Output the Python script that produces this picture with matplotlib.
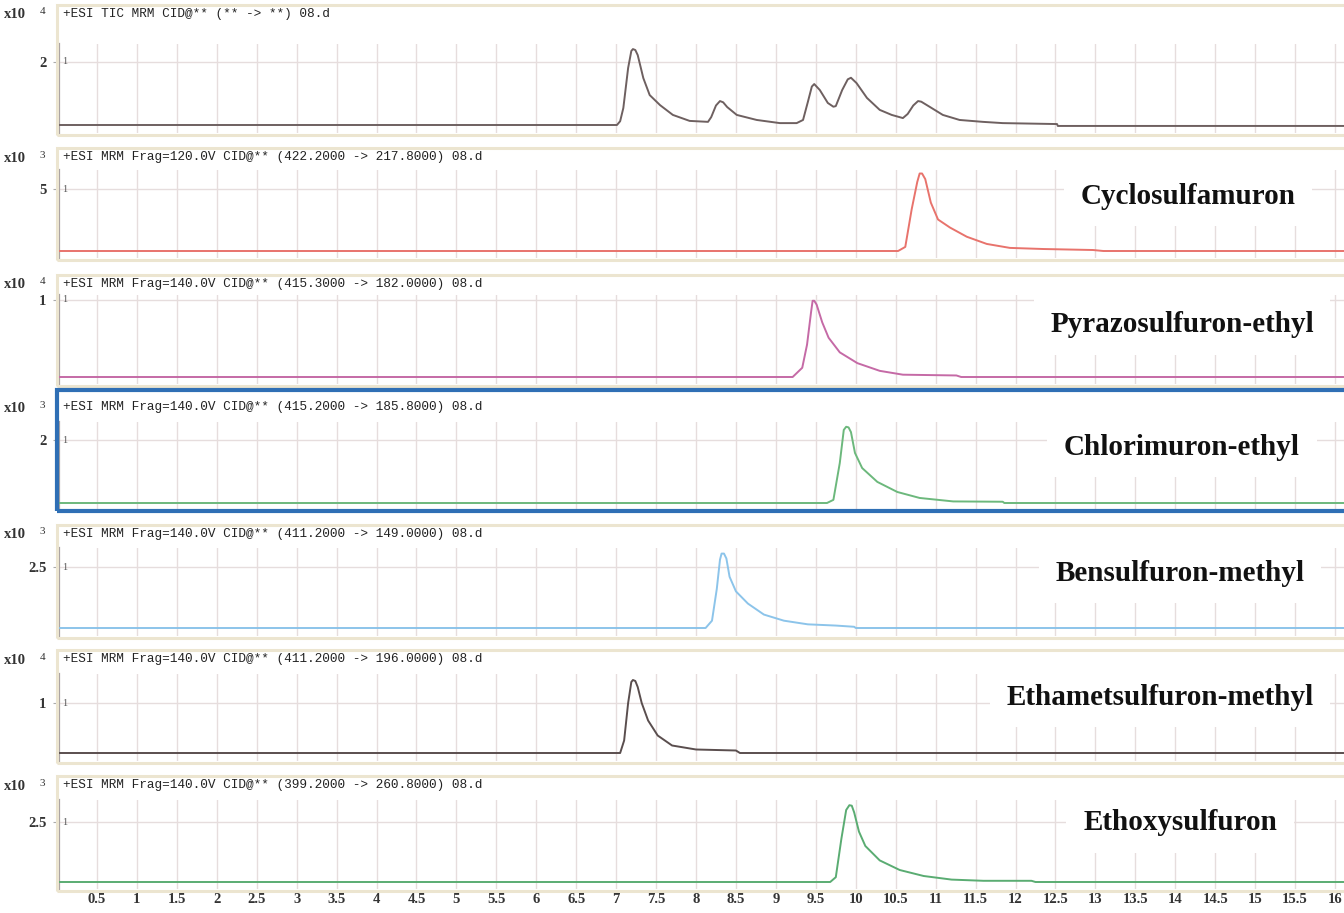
import matplotlib
matplotlib.use("Agg")
import matplotlib.pyplot as plt
from matplotlib.patches import Rectangle

# ---- data (time in min, intensity in units of 10^exp) ----
tic_t = [0.02, 7.01, 7.05, 7.09, 7.15, 7.19, 7.21, 7.24, 7.27, 7.34, 7.42, 7.55, 7.71, 7.92, 8.15,
         8.19, 8.25, 8.30, 8.34, 8.39, 8.51, 8.76, 9.05, 9.26, 9.34, 9.40, 9.45, 9.48, 9.55, 9.65,
         9.72, 9.75, 9.83, 9.90, 9.94, 10.01, 10.14, 10.30, 10.45, 10.59, 10.65, 10.72, 10.78,
         10.82, 10.93, 11.09, 11.30, 11.59, 11.84, 12.52, 12.53, 16.2]
tic_v = [0.0, 0.0, 0.12, 0.54, 1.81, 2.35, 2.41, 2.38, 2.22, 1.49, 0.95, 0.63, 0.32, 0.13, 0.10,
         0.25, 0.62, 0.76, 0.72, 0.57, 0.32, 0.16, 0.06, 0.06, 0.16, 0.73, 1.22, 1.30, 1.11, 0.70,
         0.58, 0.60, 1.11, 1.45, 1.50, 1.33, 0.86, 0.48, 0.32, 0.22, 0.35, 0.62, 0.76,
         0.74, 0.57, 0.32, 0.16, 0.10, 0.06, 0.03, -0.03, -0.03]

cyclo_t = [0.02, 10.53, 10.62, 10.70, 10.77, 10.80, 10.83, 10.87, 10.94, 11.03, 11.18, 11.39,
           11.64, 11.93, 12.35, 12.97, 13.10, 16.2]
cyclo_v = [0.0, 0.0, 0.33, 3.36, 5.57, 6.25, 6.25, 5.80, 3.90, 2.54, 1.89, 1.15,
           0.57, 0.25, 0.16, 0.08, 0.0, 0.0]

pyrazo_t = [0.02, 9.21, 9.33, 9.39, 9.44, 9.46, 9.48, 9.51, 9.58, 9.66, 9.80, 10.02, 10.30, 10.59,
            11.26, 11.32, 16.2]
pyrazo_v = [0.0, 0.0, 0.12, 0.42, 0.84, 0.99, 0.99, 0.94, 0.71, 0.51, 0.32, 0.18, 0.08, 0.03,
            0.02, 0.0, 0.0]

chlori_t = [0.02, 9.64, 9.72, 9.80, 9.85, 9.88, 9.91, 9.94, 9.99, 10.08, 10.27, 10.52, 10.80,
            11.22, 11.84, 11.86, 16.2]
chlori_v = [0.0, 0.0, 0.10, 1.27, 2.32, 2.42, 2.40, 2.25, 1.59, 1.11, 0.67, 0.35, 0.16,
            0.05, 0.04, 0.0, 0.0]

bensul_t = [0.02, 8.12, 8.20, 8.26, 8.30, 8.32, 8.35, 8.38, 8.42, 8.50, 8.65, 8.85, 9.10, 9.40,
            9.75, 9.98, 10.0, 16.2]
bensul_v = [0.0, 0.0, 0.30, 1.60, 2.80, 3.05, 3.05, 2.85, 2.10, 1.50, 1.00, 0.55, 0.30, 0.15,
            0.10, 0.05, 0.0, 0.0]

ethame_t = [0.02, 7.05, 7.10, 7.15, 7.19, 7.21, 7.24, 7.27, 7.32, 7.40, 7.52, 7.70, 8.00, 8.50,
            8.55, 16.2]
ethame_v = [0.0, 0.0, 0.25, 1.00, 1.42, 1.46, 1.44, 1.32, 1.00, 0.65, 0.35, 0.15, 0.07, 0.05,
            0.0, 0.0]

ethoxy_t = [0.02, 9.68, 9.75, 9.82, 9.88, 9.92, 9.95, 9.98, 10.04, 10.12, 10.30, 10.55, 10.85,
            11.20, 11.60, 12.20, 12.25, 16.2]
ethoxy_v = [0.0, 0.0, 0.20, 1.80, 3.00, 3.20, 3.18, 2.90, 2.10, 1.50, 0.90, 0.50, 0.25,
            0.10, 0.05, 0.05, 0.0, 0.0]

headers = [
    "+ESI TIC MRM CID@** (** -> **) 08.d",
    "+ESI MRM Frag=120.0V CID@** (422.2000 -> 217.8000) 08.d",
    "+ESI MRM Frag=140.0V CID@** (415.3000 -> 182.0000) 08.d",
    "+ESI MRM Frag=140.0V CID@** (415.2000 -> 185.8000) 08.d",
    "+ESI MRM Frag=140.0V CID@** (411.2000 -> 149.0000) 08.d",
    "+ESI MRM Frag=140.0V CID@** (411.2000 -> 196.0000) 08.d",
    "+ESI MRM Frag=140.0V CID@** (399.2000 -> 260.8000) 08.d",
]
exponents = [4, 3, 4, 3, 3, 4, 3]
y_ticks = [2, 5, 1, 2, 2.5, 1, 2.5]
compounds = ["", "Cyclosulfamuron", "Pyrazosulfuron-ethyl", "Chlorimuron-ethyl",
             "Bensulfuron-methyl", "Ethametsulfuron-methyl", "Ethoxysulfuron"]
x_ticks = [0.5 * k for k in range(1, 33)]
x_labels = ["%g" % v for v in x_ticks]

traces = [(tic_t, tic_v), (cyclo_t, cyclo_v), (pyrazo_t, pyrazo_v), (chlori_t, chlori_v),
          (bensul_t, bensul_v), (ethame_t, ethame_v), (ethoxy_t, ethoxy_v)]

# ---- layout (pixels) ----
W, H = 1344, 913
colors = ["#6e6060", "#e8736c", "#c56aa6", "#6cb87c", "#8cc4ea", "#5a4e4e", "#5aac72"]
header_y = [14, 157, 284, 407, 534, 659, 785]
top_px = [44, 170, 295, 422, 548, 674, 800]
tick_px = [62, 189, 300, 440, 567, 703, 822]
base_px = [125, 251, 377, 503, 628, 753, 882]
bot_px = [133, 258, 384, 510, 636, 761, 889]
label_xy = [None, (1188, 196), (1182, 325), (1182, 447), (1180, 573), (1160, 697), (1180, 823)]

px_per_min = 79.87
x_zero = 57.06
left_px = 59
xlim = ((left_px - x_zero) / px_per_min, (W - x_zero) / px_per_min)

grid_col = "#e6dddd"
frame_col = "#ece5d0"

fig = plt.figure(figsize=(W / 100, H / 100), dpi=100)
fig.patch.set_facecolor("white")


def fx(x):
    return x / W


def fy(y):
    return 1 - y / H


for i in range(7):
    # panel frame
    ftop = header_y[i] - 9
    fbot = bot_px[i] + 2
    if i == 3:
        fig.add_artist(Rectangle((fx(57), fy(511)), fx(W + 10 - 57), (511 - 390) / H,
                                 transform=fig.transFigure, fill=False,
                                 edgecolor="#2f6fb5", linewidth=3, zorder=5))
    else:
        fig.add_artist(Rectangle((fx(57), fy(fbot)), fx(W + 10 - 57), (fbot - ftop) / H,
                                 transform=fig.transFigure, fill=False,
                                 edgecolor=frame_col, linewidth=2.2, zorder=1))

    s = (base_px[i] - tick_px[i]) / y_ticks[i]
    ax = fig.add_axes([fx(left_px), fy(bot_px[i]), fx(W - left_px), (bot_px[i] - top_px[i]) / H])
    ax.set_xlim(*xlim)
    ax.set_ylim(-(bot_px[i] - base_px[i]) / s, (base_px[i] - top_px[i]) / s)
    ax.patch.set_alpha(0)

    for sp in ["top", "right", "bottom"]:
        ax.spines[sp].set_visible(False)
    ax.spines["left"].set_color("#aaa3a3")
    ax.spines["left"].set_linewidth(1.6)

    for xv in x_ticks:
        ax.axvline(xv, color=grid_col, linewidth=1.0, zorder=0)
    ax.axhline(y_ticks[i], color=grid_col, linewidth=1.0, zorder=0)

    t, v = traces[i]
    ax.plot(t, v, color=colors[i], linewidth=1.4, zorder=3, solid_joinstyle="round")

    ax.set_yticks([y_ticks[i]])
    ax.set_yticklabels(["%g" % y_ticks[i]], fontsize=10.5, family="Liberation Serif",
                       fontweight="bold", color="#333333")
    ax.tick_params(axis="y", length=4, color="#aaaaaa", pad=5)

    ax.text(xlim[0] + 0.04, y_ticks[i], "1", fontsize=7.5, family="Liberation Serif",
            color="#555555", va="center", ha="left")

    if i == 6:
        ax.set_xticks(x_ticks)
        ax.set_xticklabels(x_labels, fontsize=10.5, family="Liberation Serif",
                           fontweight="bold", color="#333333")
        ax.tick_params(axis="x", length=0, pad=3)
    else:
        ax.set_xticks([])

    # header line
    fig.text(fx(63), fy(header_y[i]), headers[i], fontsize=9.2, family="Liberation Mono",
             color="#222222", va="center", ha="left")
    fig.text(fx(4), fy(header_y[i] + 1), "x10", fontsize=10.5, family="Liberation Serif",
             fontweight="bold", color="#333333", va="center", ha="left")
    fig.text(fx(40), fy(header_y[i] - 2), str(exponents[i]), fontsize=8,
             family="Liberation Serif", color="#333333", va="center", ha="left")

    if compounds[i]:
        lx, ly = label_xy[i]
        fig.text(fx(lx), fy(ly), compounds[i], fontsize=21, family="Liberation Serif",
                 fontweight="bold", color="#111111", va="center", ha="center", zorder=6,
                 bbox=dict(facecolor="white", edgecolor="none", pad=12))

fig.savefig("out.png", dpi=100)
